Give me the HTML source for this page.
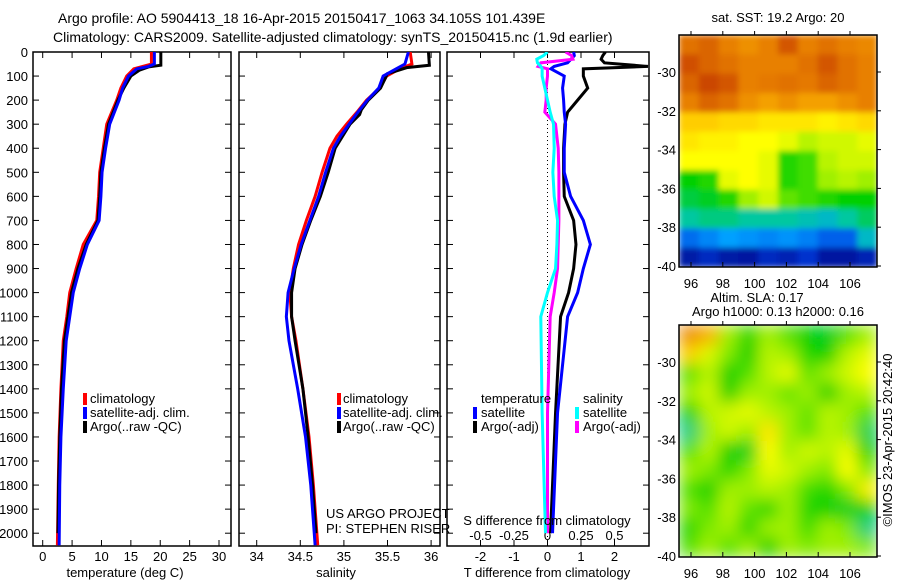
<!DOCTYPE html>
<html><head><meta charset="utf-8">
<style>
body{margin:0;background:#fff;}
svg{display:block;font-family:"Liberation Sans",sans-serif;}
text{fill:#000;}
</style></head>
<body>
<svg id="fig" width="900" height="580" viewBox="0 0 900 580" xmlns="http://www.w3.org/2000/svg">
<defs>
<filter id="blur" x="0" y="0" width="1" height="1"><feGaussianBlur stdDeviation="3" edgeMode="duplicate"/></filter>
<filter id="blur2" x="0" y="0" width="1" height="1"><feGaussianBlur stdDeviation="8" edgeMode="duplicate"/></filter>
<clipPath id="c1"><rect x="679" y="35" width="198" height="232"/></clipPath>
<clipPath id="c2"><rect x="679" y="325" width="198" height="232"/></clipPath>
<clipPath id="cp1"><rect x="33" y="52" width="198" height="494"/></clipPath>
<clipPath id="cp2"><rect x="239" y="52" width="201" height="494"/></clipPath>
<clipPath id="cp3"><rect x="447" y="52" width="202" height="494"/></clipPath>
</defs>
<text x="58" y="23" font-size="14">Argo profile: AO 5904413_18 16-Apr-2015 20150417_1063 34.105S 101.439E</text>
<text x="53" y="42" font-size="14">Climatology: CARS2009. Satellite-adjusted climatology: synTS_20150415.nc (1.9d earlier)</text>
<g id="g"></g>
</svg>
<script>
// ---- data ----
const depthT = [0,50,60,70,100,150,200,300,400,500,600,700,800,900,1000,1100,1200,1400,1600,1800,2050];
const tClim  = [18.5,18.5,17,15.5,14.3,13.3,12.6,10.9,10.3,9.7,9.5,9.2,6.9,5.7,4.6,4.1,3.5,3.1,2.8,2.65,2.5];
const tSat   = [19,19,18,16,14.6,13.6,13.0,11.4,10.7,10.1,9.9,9.6,7.6,6.3,5.2,4.6,4.0,3.5,3.1,2.9,2.8];
const tArgoDepth = [0,55,62,75,100,150,200,300,400,500,600,700,800,900,1000,1100,1200,1400,1600,1800,2000];
const tArgo  = [20.1,20.1,18,16.5,15,13.8,12.8,11.2,10.5,9.9,9.7,9.4,7.4,6.0,4.9,4.3,3.7,3.2,2.9,2.7,2.6];
const depthS = [0,50,70,100,150,200,250,300,350,400,500,600,700,800,900,1000,1100,1200,1400,1600,1800,2050];
const sClim  = [35.76,35.78,35.64,35.49,35.41,35.26,35.15,35.03,34.92,34.84,34.75,34.67,34.57,34.48,34.42,34.38,34.40,34.45,34.53,34.60,34.65,34.70];
const sSat   = [35.74,35.70,35.60,35.45,35.40,35.27,35.16,35.06,34.96,34.88,34.79,34.71,34.61,34.51,34.43,34.36,34.34,34.37,34.47,34.56,34.62,34.67];
const sArgoDepth = [0,55,65,90,150,200,240,260,300,400,500,600,700,800,900,1000,1100,1200,1400,1600,1800,2000];
const sArgo  = [35.97,35.98,35.72,35.50,35.42,35.28,35.20,35.18,35.07,34.90,34.82,34.73,34.62,34.52,34.44,34.40,34.40,34.44,34.53,34.59,34.64,34.68];
const dDepth = [0,15,30,45,60,70,100,150,200,250,300,400,500,600,700,800,900,1000,1100,1500,1900,2000];
const dTSat  = [0.78,0.8,0.7,0.6,0.2,0.1,0.5,0.45,0.48,0.5,0.54,0.5,0.5,0.69,1.07,1.28,1.07,0.9,0.6,0.3,0.18,0.15];
const dTArgo = [1.73,1.65,1.6,1.7,3.0,1.07,1.07,1.2,0.9,0.6,0.52,0.48,0.48,0.5,0.78,0.85,0.78,0.63,0.39,0.24,0.12,0.09];
const dSSat  = [0,-0.03,-0.08,-0.075,-0.05,-0.04,-0.04,-0.02,0,0.02,0.045,0.05,0.04,0.05,0.075,0.07,0.06,0,-0.05,-0.04,-0.02,-0.015];
const dSArgo = [0.135,0.18,0.19,-0.05,-0.07,0,0,-0.01,-0.01,-0.02,0.06,0.08,0.085,0.085,0.085,0.08,0.075,0.05,0.02,0,0,0];
const depthTicks = [0,100,200,300,400,500,600,700,800,900,1000,1100,1200,1300,1400,1500,1600,1700,1800,1900,2000];
const tTicks = [0,5,10,15,20,25,30];
const sTicks = [34,34.5,35,35.5,36];
const dTTicks = [-2,-1,0,1,2];
const dSTicks = ["-0.5","-0.25","0","0.25","0.5"];
const lonTicks = [96,98,100,102,104,106];
const latTicks = [-30,-32,-34,-36,-38,-40];
const sstGrid = [
[.88,.9,.86,.84,.86,.92,.86,.88,.86,.85],
[.93,.9,.88,.86,.86,.86,.88,.92,.88,.86],
[.9,.94,.92,.86,.87,.88,.87,.9,.88,.86],
[.86,.9,.88,.84,.82,.84,.82,.82,.84,.86],
[.76,.76,.74,.74,.72,.72,.72,.7,.72,.74],
[.72,.7,.7,.68,.68,.66,.62,.64,.64,.66],
[.68,.68,.68,.68,.66,.52,.54,.62,.64,.64],
[.5,.52,.66,.68,.66,.52,.54,.6,.62,.6],
[.46,.48,.52,.6,.64,.56,.54,.52,.5,.5],
[.4,.42,.42,.4,.4,.4,.38,.36,.4,.44],
[.22,.26,.3,.28,.26,.28,.25,.2,.2,.36],
[.06,.1,.06,.05,.1,.08,.12,.05,.05,.08]];
const slaGrid = [
[.85,.8,.6,.52,.6,.55,.5,.48,.55,.6],
[.75,.65,.58,.5,.62,.6,.52,.5,.62,.66],
[.55,.62,.5,.55,.62,.66,.56,.6,.64,.68],
[.6,.64,.5,.6,.6,.56,.6,.5,.6,.62],
[.5,.62,.64,.66,.62,.6,.56,.62,.6,.55],
[.42,.6,.64,.6,.72,.6,.56,.62,.6,.45],
[.55,.62,.5,.48,.68,.6,.64,.62,.66,.5],
[.6,.58,.52,.58,.66,.64,.6,.58,.68,.58],
[.55,.5,.6,.6,.62,.6,.54,.52,.58,.7],
[.58,.55,.62,.56,.52,.6,.52,.5,.48,.5],
[.52,.58,.6,.52,.6,.6,.54,.6,.58,.42],
[.55,.6,.55,.6,.5,.6,.58,.6,.6,.58]];

// ---- helpers ----
const NS="http://www.w3.org/2000/svg";
const G=document.getElementById('g');
function el(tag,attrs,parent){const e=document.createElementNS(NS,tag);for(const k in attrs)e.setAttribute(k,attrs[k]);(parent||G).appendChild(e);return e;}
function txt(x,y,s,size,anchor){const t=el('text',{x:x,y:y,'font-size':size||13,'text-anchor':anchor||'start'});t.textContent=s;return t;}
const yD=d=>52+d*0.2406;
const xT=t=>42.7+t*5.877;
const xS=s=>256.7+(s-34)*87.2;
const xDT=v=>547.5+v*33.5;
const xDS=v=>547.5+v*4*33.5;
const xLon=l=>691+(l-96)*15.9;
const yLat=(l,top)=>top+37+(-30-l)*19.4;

function stepLine(xs,ds,xf,color,name,clip){
  let p=[];
  for(let i=0;i<xs.length;i++){p.push(xf(xs[i])+','+yD(ds[i]));}
  const l=el('polyline',{points:p.join(' '),fill:'none',stroke:color,'stroke-width':3,'clip-path':'url(#'+clip+')'});
  
  
}
function frame(x0,x1,name){
  const r=el('rect',{x:x0,y:52,width:x1-x0,height:494,fill:'none',stroke:'#000','stroke-width':1.5});
  
  
  depthTicks.forEach(d=>{el('line',{x1:x0,x2:x0+6,y1:yD(d),y2:yD(d),stroke:'#000'});el('line',{x1:x1-6,x2:x1,y1:yD(d),y2:yD(d),stroke:'#000'});});
}
function legendBar(x,y,color){el('rect',{x:x,y:y-10,width:4,height:12,fill:color});}

// ---- panel 1 temperature ----
frame(33,231,'temperature-panel');
depthTicks.forEach(d=>{const t=txt(28,yD(d)+5,String(d),13,'end');});
tTicks.forEach(v=>{el('line',{x1:xT(v),x2:xT(v),y1:546,y2:540,stroke:'#000'});el('line',{x1:xT(v),x2:xT(v),y1:52,y2:58,stroke:'#000'});const t=txt(xT(v),561,String(v),13,'middle');});
let t1=txt(125,577,'temperature (deg C)',13,'middle');
stepLine(tClim,depthT,xT,'#ff0000','temperature-climatology-line','cp1');
stepLine(tArgo,tArgoDepth,xT,'#000000','temperature-argo-line','cp1');
stepLine(tSat,depthT,xT,'#0000ff','temperature-satellite-line','cp1');
legendBar(83,403,'#ff0000');legendBar(83,417,'#0000ff');legendBar(83,431,'#000');
txt(90,403,'climatology',13);txt(90,417,'satellite-adj. clim.',13);txt(90,431,'Argo(..raw -QC)',13);

// ---- panel 2 salinity ----
frame(239,440,'salinity-panel');
sTicks.forEach(v=>{el('line',{x1:xS(v),x2:xS(v),y1:546,y2:540,stroke:'#000'});el('line',{x1:xS(v),x2:xS(v),y1:52,y2:58,stroke:'#000'});const t=txt(xS(v),561,String(v),13,'middle');});
let t2=txt(336,577,'salinity',13,'middle');
stepLine(sClim,depthS,xS,'#ff0000','salinity-climatology-line','cp2');
stepLine(sArgo,sArgoDepth,xS,'#000000','salinity-argo-line','cp2');
stepLine(sSat,depthS,xS,'#0000ff','salinity-satellite-line','cp2');
legendBar(337,403,'#ff0000');legendBar(337,417,'#0000ff');legendBar(337,431,'#000');
txt(343,403,'climatology',13);txt(343,417,'satellite-adj. clim.',13);txt(343,431,'Argo(..raw -QC)',13);
txt(326,518,'US ARGO PROJECT',13);txt(326,533,'PI: STEPHEN RISER',13);

// ---- panel 3 differences ----
frame(447,649,'difference-panel');
el('line',{x1:xDT(0),x2:xDT(0),y1:52,y2:546,stroke:'#000','stroke-dasharray':'1,3'});
dTTicks.forEach((v,i)=>{el('line',{x1:xDT(v),x2:xDT(v),y1:546,y2:540,stroke:'#000'});el('line',{x1:xDT(v),x2:xDT(v),y1:52,y2:58,stroke:'#000'});
 const t=txt(xDT(v),561,String(v),13,'middle');
 const s=txt(xDT(v),540,dSTicks[i],13,'middle');});
stepLine(dTArgo,dDepth,xDT,'#000000','t-diff-argo-line','cp3');
stepLine(dTSat,dDepth,xDT,'#0000ff','t-diff-satellite-line','cp3');
stepLine(dSArgo,dDepth,xDS,'#ff00ff','s-diff-argo-line','cp3');
stepLine(dSSat,dDepth,xDS,'#00ffff','s-diff-satellite-line','cp3');
let t3=txt(547,577,'T difference from climatology',13,'middle');
let t4=txt(547,525,'S difference from climatology',13,'middle');
txt(481,403,'temperature',13);txt(583,403,'salinity',13);
legendBar(473,417,'#0000ff');legendBar(473,431,'#000');legendBar(575,417,'#00ffff');legendBar(575,431,'#ff00ff');
txt(481,417,'satellite',13);txt(481,431,'Argo(-adj)',13);txt(583,417,'satellite',13);txt(583,431,'Argo(-adj)',13);

// ---- maps ----
const stops=[[0,[0,0,128]],[.15,[0,64,224]],[.3,[0,160,255]],[.4,[0,200,160]],[.5,[0,208,0]],[.6,[160,240,0]],[.68,[255,255,0]],[.78,[255,192,0]],[.86,[232,128,0]],[.93,[208,80,0]],[1,[176,16,0]]];
function cmap(v){for(let i=1;i<stops.length;i++){if(v<=stops[i][0]){const a=stops[i-1],b=stops[i],f=(v-a[0])/(b[0]-a[0]);return 'rgb('+a[1].map((c,k)=>Math.round(c+(b[1][k]-c)*f)).join(',')+')';}}return 'rgb(176,16,0)';}
function map(grid,top,clip,filter,name){
  const g=el('g',{'clip-path':'url(#'+clip+')'});
  
  
  const inner=el('g',{filter:'url(#'+filter+')'},g);
  const cw=198/grid[0].length,ch=232/grid.length;
  grid.forEach((row,r)=>row.forEach((v,c)=>{el('rect',{x:679+c*cw,y:top+r*ch,width:cw+0.5,height:ch+0.5,fill:cmap(v)},inner);}));
  el('rect',{x:679,y:top,width:198,height:232,fill:'none',stroke:'#000','stroke-width':1.5});
  lonTicks.forEach(l=>{el('line',{x1:xLon(l),x2:xLon(l),y1:top+232,y2:top+227,stroke:'#000'});el('line',{x1:xLon(l),x2:xLon(l),y1:top,y2:top-4,stroke:'#000'});txt(xLon(l),top+253,String(l),13,'middle');});
  latTicks.forEach(l=>{const y=yLat(l,top);el('line',{x1:877,x2:881,y1:y,y2:y,stroke:'#000'});txt(676,y+5,String(l),13,'end');});
}
map(sstGrid,35,'c1','blur','sst-map');
map(slaGrid,325,'c2','blur2','sla-map');
txt(778,22,'sat. SST: 19.2 Argo: 20',13,'middle');
txt(757,302,'Altim. SLA: 0.17',13,'middle');
txt(778,316,'Argo h1000: 0.13 h2000: 0.16',13,'middle');
const cr=el('text',{x:0,y:0,'font-size':13,'text-anchor':'middle',transform:'translate(892,440) rotate(-90)'});
cr.textContent='\u00a9IMOS 23-Apr-2015 20:42:40';


</script>
</body></html>
